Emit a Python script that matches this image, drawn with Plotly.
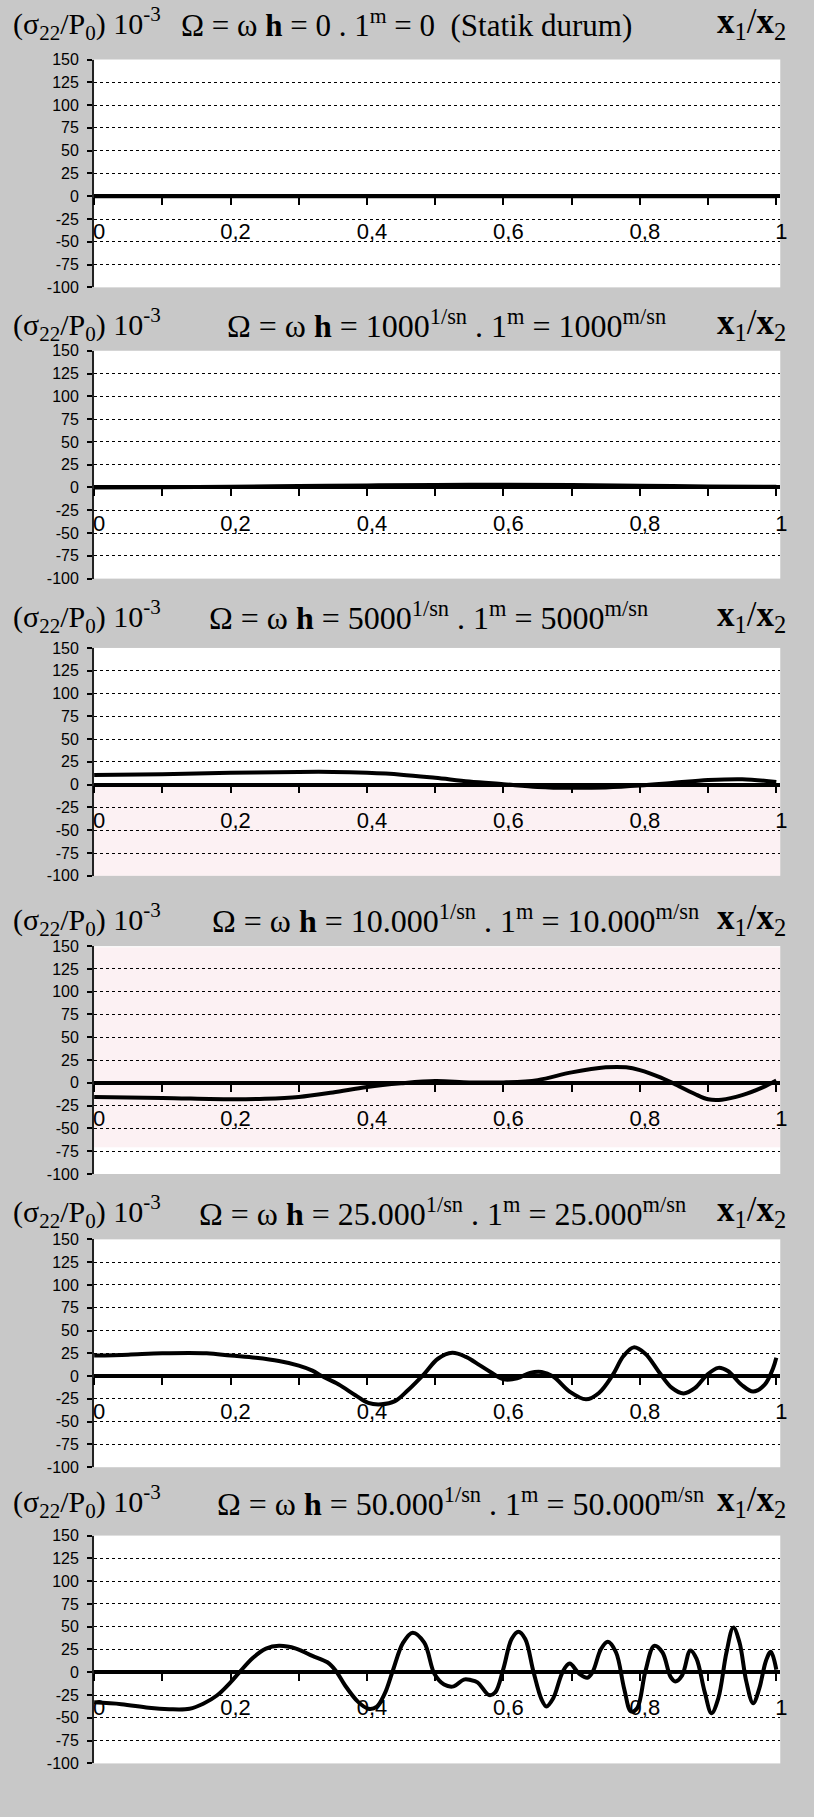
import plotly.graph_objects as go

W, H = 814, 1817

# ---------------- data ----------------
x_static = [0, 0.1, 0.2, 0.3, 0.4, 0.5, 0.6, 0.7, 0.8, 0.9, 1.0]
y_static = [0, 0, 0, 0, 0, 0, 0, 0, 0, 0, 0]

x_1000 = [0, 0.1, 0.2, 0.3, 0.4, 0.5, 0.6, 0.7, 0.8, 0.9, 1.0]
y_1000 = [0, 0.3, 0.8, 1.5, 2.2, 2.8, 3.0, 2.8, 2.0, 1.2, 0.8]

x_5000 = [0, 0.1, 0.2, 0.3, 0.35, 0.4, 0.45, 0.5, 0.55, 0.6, 0.65, 0.7, 0.75, 0.8, 0.85, 0.9, 0.95, 1.0]
y_5000 = [10.5, 11.5, 13, 14, 14, 13, 11, 7.5, 3.5, 0.5, -2.5, -3.5, -3, -1, 2, 5, 6, 3]

x_10000 = [0, 0.1, 0.2, 0.25, 0.3, 0.35, 0.4, 0.45, 0.5, 0.55, 0.6, 0.65, 0.7, 0.75, 0.78,
           0.8, 0.83, 0.85, 0.88, 0.9, 0.92, 0.95, 0.98, 1.0]
y_10000 = [-15.5, -16.5, -18, -17.5, -15.5, -10.5, -4.5, -0.5, 2, 0.5, 0.5, 3, 11.5, 17, 17,
           14, 6, -1, -12, -18, -18.5, -13.5, -5, 2.5]

x_25000 = [0, 0.05, 0.1, 0.165, 0.2, 0.237, 0.271, 0.3, 0.32, 0.334, 0.358, 0.383, 0.402,
           0.421, 0.441, 0.46, 0.484, 0.504, 0.525, 0.545, 0.565, 0.581, 0.6, 0.62, 0.639,
           0.656, 0.673, 0.697, 0.721, 0.74, 0.76, 0.776, 0.791, 0.808, 0.828, 0.847, 0.864,
           0.881, 0.898, 0.915, 0.929, 0.949, 0.966, 0.983, 0.995, 1.0]
y_25000 = [22.5, 23.5, 25, 25, 22.5, 20, 16.5, 11.5, 6, 0, -9, -21, -29.5,
           -31, -27.5, -15.5, 2.5, 19, 25.5, 21, 12, 4.5, -3.5, -2.5, 3.5,
           4.5, -0.5, -17, -25.5, -18.5, 1, 22, 31.5, 24.5, 4.5, -13, -19,
           -13, 1, 9, 5.5, -9.5, -17, -9.5, 8, 20]

x_50000 = [0, 0.04, 0.08, 0.11, 0.14, 0.16, 0.18, 0.2, 0.213, 0.233, 0.252, 0.271, 0.296,
           0.32, 0.342, 0.354, 0.368, 0.387, 0.402, 0.414, 0.426, 0.438, 0.453, 0.467,
           0.484, 0.499, 0.513, 0.527, 0.542, 0.552, 0.562, 0.579, 0.588, 0.6, 0.612,
           0.622, 0.632, 0.644, 0.656, 0.663, 0.673, 0.687, 0.697, 0.711, 0.723, 0.731,
           0.743, 0.753, 0.765, 0.777, 0.787, 0.796, 0.808, 0.821, 0.833, 0.845, 0.852,
           0.862, 0.874, 0.883, 0.895, 0.905, 0.915, 0.927, 0.937, 0.946, 0.956, 0.966,
           0.975, 0.985, 0.992, 1.0]
y_50000 = [-33, -35, -39, -40.5, -40, -34.5, -25.5, -11, 0, 16, 26, 29, 26,
           18, 11, 2, -14.5, -32.5, -40, -38, -23.5, 2, 32.5, 43.5,
           32.5, -2, -13.5, -15.5, -8, -8.5, -11, -25, -22, 4, 36.5,
           44.5, 36.5, 0.7, -30, -37.5, -28.5, 0.7, 9.5, -1.5, -6, 0.7,
           25.5, 33.5, 22, -18, -43, -39.5, 0.7, 29, 22, -5, -10,
           -3.3, 24, 15, -21.5, -45, -28.5, 22, 49, 33, -10, -34,
           -18, 13, 22.5, 3]

y_ticks = [-100, -75, -50, -25, 0, 25, 50, 75, 100, 125, 150]
x_tickvals = [0, 0.1, 0.2, 0.3, 0.4, 0.5, 0.6, 0.7, 0.8, 0.9, 1.0]
x_ticktext = ["0", "", "0,2", "", "0,4", "", "0,6", "", "0,8", "", "1"]

omega_titles = [
    "Ω = ω <b>h</b> = 0 . 1<sup>m</sup> = 0  (Statik durum)",
    "Ω = ω <b>h</b> = 1000<sup>1/sn</sup> . 1<sup>m</sup> = 1000<sup>m/sn</sup>",
    "Ω = ω <b>h</b> = 5000<sup>1/sn</sup> . 1<sup>m</sup> = 5000<sup>m/sn</sup>",
    "Ω = ω <b>h</b> = 10.000<sup>1/sn</sup> . 1<sup>m</sup> = 10.000<sup>m/sn</sup>",
    "Ω = ω <b>h</b> = 25.000<sup>1/sn</sup> . 1<sup>m</sup> = 25.000<sup>m/sn</sup>",
    "Ω = ω <b>h</b> = 50.000<sup>1/sn</sup> . 1<sup>m</sup> = 50.000<sup>m/sn</sup>",
]
left_title = "(σ<sub>22</sub>/P<sub>0</sub>) 10<sup>-3</sup>"
right_title = "<b>x</b><sub>1</sub>/<b>x</b><sub>2</sub>"

series = [(x_static, y_static), (x_1000, y_1000), (x_5000, y_5000),
          (x_10000, y_10000), (x_25000, y_25000), (x_50000, y_50000)]

# ---------------- layout geometry (pixels) ----------------
panel_top = [52, 346, 646, 947, 1243, 1542]
panel_h = 230
title_y = [16, 319, 614, 920, 1215, 1508]
omega_x = [180, 226, 208, 211, 198, 216]
omega_size = [31, 32, 32, 32, 32, 32]
plot_left, plot_right = 94, 787

SERIF = "Liberation Serif, Times New Roman, serif"
NARROW = "Liberation Sans Narrow, Arial Narrow, Liberation Sans, sans-serif"
SANS = "Liberation Sans, Arial, sans-serif"

fig = go.Figure()
layout = dict(
    width=W, height=H, margin=dict(l=0, r=0, t=0, b=0),
    paper_bgcolor="#c8c8c8", plot_bgcolor="white", showlegend=False,
    annotations=[], shapes=[],
)

for i, (xs, ys) in enumerate(series):
    n = "" if i == 0 else str(i + 1)
    top = panel_top[i]
    bot = top + panel_h
    d0, d1 = 1 - bot / H, 1 - top / H
    zero_pos = d0 + (0 - (-100)) / 250 * (d1 - d0)

    fig.add_trace(go.Scatter(
        x=xs, y=ys, mode="lines", xaxis="x" + n, yaxis="y" + n,
        line=dict(color="black", width=4, shape="spline", smoothing=1.0),
        hoverinfo="skip",
    ))

    layout["xaxis" + n] = dict(
        domain=[plot_left / W, plot_right / W],
        range=[0, (plot_right - plot_left) / 689],
        anchor="free", position=zero_pos,
        showline=True, linecolor="black", linewidth=3.5,
        ticks="outside", ticklen=7, tickwidth=2, tickcolor="black",
        tickvals=x_tickvals, ticktext=x_ticktext,
        tickfont=dict(family=NARROW, size=22, color="black"),
        ticklabelstandoff=8, ticklabelshift=5,
        showgrid=False, zeroline=False, layer="above traces",
    )
    layout["yaxis" + n] = dict(
        domain=[d0, d1], range=[-100, 150], anchor="x" + n,
        tickvals=y_ticks, ticktext=[str(v) for v in y_ticks],
        tickfont=dict(family=SANS, size=16, color="black"),
        ticks="outside", ticklen=5, tickwidth=1.5, tickcolor="black",
        ticklabelstandoff=5,
        showgrid=True, gridcolor="black", gridwidth=1.4, griddash="3px,3px",
        showline=True, linecolor="#222", linewidth=2,
        zeroline=False,
    )

    ty = 1 - title_y[i] / H
    layout["annotations"] += [
        dict(text=left_title, xref="paper", yref="paper", x=10 / W, y=ty,
             xanchor="left", yanchor="middle", showarrow=False,
             font=dict(family=SERIF, size=30, color="black")),
        dict(text=omega_titles[i], xref="paper", yref="paper", x=omega_x[i] / W, y=ty,
             xanchor="left", yanchor="middle", showarrow=False,
             font=dict(family=SERIF, size=omega_size[i], color="black")),
        dict(text=right_title, xref="paper", yref="paper", x=795 / W, y=ty,
             xanchor="right", yanchor="middle", showarrow=False,
             font=dict(family=SERIF, size=35, color="black")),
    ]

# faint pink watermark of the scan, only inside the plot areas of panels 3 and 4
for (ya, yb) in [(786, 876), (948, 1150)]:
    layout["shapes"].append(dict(
        type="rect", xref="paper", yref="paper",
        x0=plot_left / W, x1=plot_right / W,
        y0=1 - yb / H, y1=1 - ya / H, line=dict(width=0),
        fillcolor="rgba(235,150,165,0.13)", layer="below",
    ))

fig.update_layout(**layout)
fig.write_html("out.html")
